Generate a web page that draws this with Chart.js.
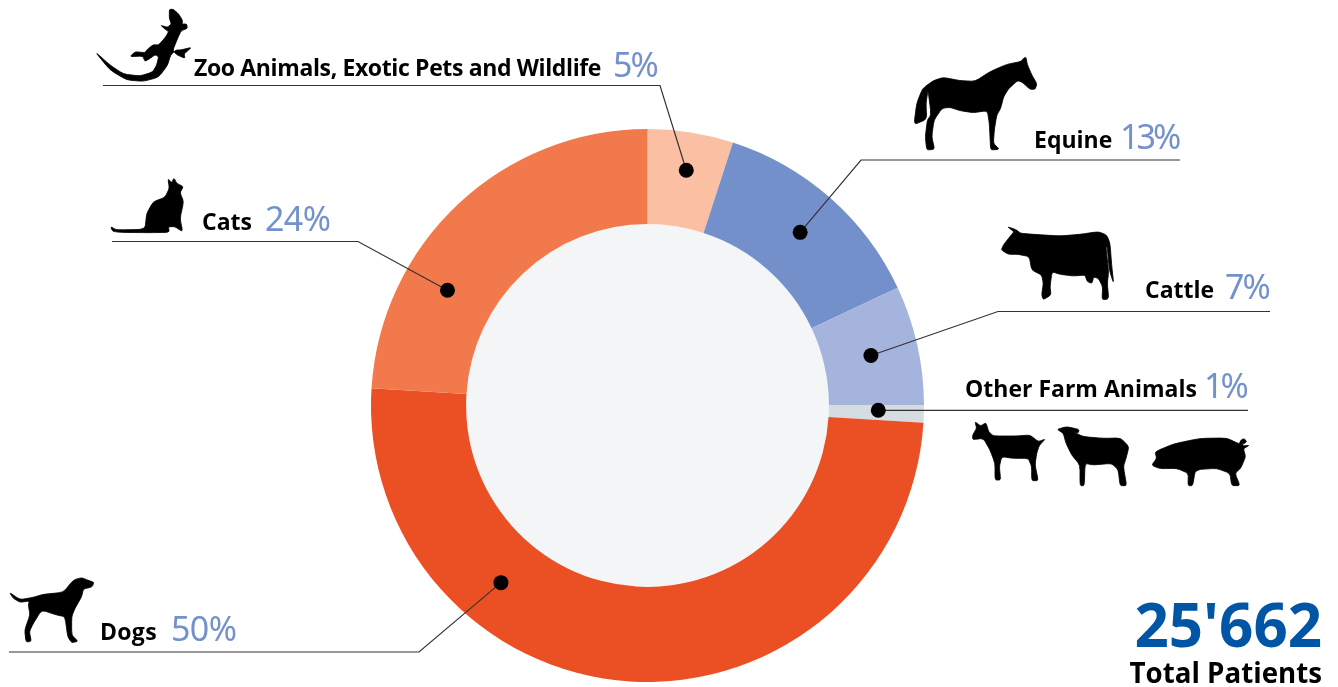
<!DOCTYPE html>
<html>
<head>
<meta charset="utf-8">
<title>Patients by species</title>
<script src="https://cdn.jsdelivr.net/npm/chart.js@4/dist/chart.umd.min.js"></script>
<style>
    html, body { margin: 0; padding: 0; background: #fff; overflow: hidden; }
    canvas { display: block; }
</style>
</head>
<body>
<canvas id="speciesChart" width="1338" height="687"></canvas>
<script>
const categories = ['Zoo Animals, Exotic Pets and Wildlife', 'Equine', 'Cattle', 'Other Farm Animals', 'Dogs', 'Cats'];
const shares = [5, 13, 7, 1, 50, 24];
const totalPatients = 25662;
const totalLabel = 'Total Patients';

const sliceColors = ['#fbbfa3', '#7390cb', '#a5b4dd', '#d6dde2', '#eb5024', '#f2794c'];

// Label placement for each slice, same order as categories.
// t/r: where the dot sits inside the slice (fraction of sweep / of ring width).
// bend: elbow of the leader, end: x where the horizontal rule stops.
const callouts = [
    { t: 0.52, r: 0.60, bend: [660, 85.5],  end: 103,  labelX: 194,  valueX: 613,  base: 76,  tight: -0.37, valueTight: -2 },
    { t: 0.50, r: 0.52, bend: [861, 160],   end: 1180, labelX: 1034, valueX: 1120, base: 148, tight: 0,     valueTight: -3 },
    { t: 0.50, r: 0.50, bend: [998, 311.5], end: 1270, labelX: 1145, valueX: 1225, base: 298, tight: 0,     valueTight: -2 },
    { t: 0.33, r: 0.52, bend: null,         end: 1248, labelX: 965,  valueX: 1204, base: 397, tight: 0,     valueTight: -3 },
    { t: 0.70, r: 0.51, bend: [419, 652],   end: 9,    labelX: 100,  valueX: 171,  base: 640, tight: 0.3,   valueTight: -0.6 },
    { t: 0.305, r: 0.52, bend: [358, 241.5], end: 112, labelX: 202,  valueX: 265,  base: 230, tight: 0,     valueTight: -0.6 }
];

// Animal outlines, traced at 3x and placed by their offset
const silhouettes = [
    { at: [90, 0], pts: [[15,155],[60,210],[110,240],[160,244],[205,232],[232,197],[242,165],[258,150],[272,150],[305,142],[282,162],[285,175],[262,165],[248,152],[264,112],[274,92],[292,85],[290,72],[276,72],[278,62],[266,42],[250,28],[238,28],[238,55],[244,72],[232,82],[212,76],[226,88],[236,95],[226,112],[206,135],[190,134],[172,148],[165,158],[135,155],[120,170],[158,168],[165,184],[176,178],[196,164],[206,170],[200,195],[188,216],[150,228],[100,222],[60,195]] },
    { at: [900, 40], pts: [[372,54],[378,52],[382,74],[396,106],[411,132],[405,148],[390,148],[366,126],[352,122],[326,146],[311,170],[302,205],[290,226],[283,270],[280,310],[298,328],[272,330],[270,290],[268,250],[262,212],[220,218],[180,212],[150,202],[126,205],[102,240],[95,290],[104,328],[80,330],[76,290],[82,240],[91,228],[92,212],[84,150],[78,190],[80,238],[42,254],[50,190],[68,145],[100,122],[130,112],[180,122],[225,124],[270,95],[320,73],[362,65]] },
    { at: [990, 215], pts: [[52,35],[78,44],[92,55],[130,58],[210,63],[270,58],[325,50],[350,60],[360,85],[365,150],[371,206],[358,165],[351,90],[348,100],[356,170],[352,205],[356,252],[336,254],[338,215],[325,190],[311,186],[306,205],[292,200],[285,180],[250,183],[210,178],[186,170],[180,215],[183,240],[160,254],[155,240],[160,205],[155,180],[125,165],[118,125],[85,118],[55,118],[34,105],[40,90],[62,62],[72,50]] },
    { at: [960, 370], pts: [[45,155],[62,168],[78,158],[86,185],[100,198],[170,198],[210,195],[235,215],[256,207],[238,226],[230,250],[225,285],[235,332],[215,332],[215,290],[205,265],[160,265],[125,260],[118,290],[122,330],[105,330],[105,280],[90,240],[70,205],[38,209],[38,195],[50,175]] },
    { at: [960, 370], pts: [[291,178],[320,170],[357,178],[355,189],[340,186],[370,200],[430,205],[482,204],[507,230],[498,265],[490,290],[500,347],[480,347],[475,300],[455,280],[400,285],[375,280],[373,347],[360,347],[360,285],[335,255],[318,220],[310,190]] },
    { at: [960, 370], pts: [[575,286],[590,265],[585,245],[640,222],[720,205],[800,204],[838,222],[843,210],[852,206],[860,214],[852,222],[846,218],[850,228],[868,226],[850,236],[857,260],[842,295],[825,310],[840,347],[815,347],[810,310],[770,295],[720,298],[705,305],[698,347],[684,347],[685,310],[650,295],[600,296]] },
    { at: [0, 565], pts: [[28,82],[60,104],[100,97],[130,88],[190,82],[220,45],[245,38],[262,45],[282,52],[276,66],[250,72],[245,95],[225,130],[215,155],[215,210],[234,229],[215,233],[203,215],[195,155],[170,150],[125,135],[100,175],[88,200],[94,229],[78,231],[74,195],[90,150],[85,120],[88,108],[60,112],[40,100]] },
    { at: [100, 170], pts: [[32,170],[50,180],[135,178],[140,130],[160,95],[195,82],[208,55],[204,26],[215,38],[222,24],[230,40],[250,50],[240,68],[251,95],[240,145],[248,185],[225,170],[205,170],[208,187],[145,188],[60,187],[38,184]] }
];

const labelFont = '"Open Sans", sans-serif';
const valueFont = '"Noto Sans", sans-serif';

function lerp(a, b, k) {
    return [a[0] + (b[0] - a[0]) * k, a[1] + (b[1] - a[1]) * k];
}

function drawSilhouette(ctx, item) {
    const pts = item.pts;
    ctx.save();
    ctx.translate(item.at[0], item.at[1]);
    ctx.scale(1 / 3, 1 / 3);
    ctx.beginPath();
    // only the corners get rounded so toes and hooves stay pointed
    pts.forEach((p, i) => {
        const prev = pts[(i + pts.length - 1) % pts.length];
        const next = pts[(i + 1) % pts.length];
        const a = lerp(p, prev, 0.25), b = lerp(p, next, 0.25);
        if (i === 0) ctx.moveTo(a[0], a[1]);
        else ctx.lineTo(a[0], a[1]);
        ctx.quadraticCurveTo(p[0], p[1], b[0], b[1]);
    });
    ctx.closePath();
    ctx.fillStyle = '#000';
    ctx.fill();
    // a thin outline gives back what the rounding takes off the legs
    ctx.strokeStyle = '#000';
    ctx.lineWidth = 2.5;
    ctx.lineJoin = 'round';
    ctx.stroke();
    ctx.restore();
}

function formatTotal(n) {
    return String(n).replace(/\B(?=(\d{3})+$)/g, "'");
}

const ringFace = {
    id: 'ringFace',
    beforeDatasetsDraw(chart) {
        const arc = chart.getDatasetMeta(0).data[0];
        const ctx = chart.ctx;
        ctx.save();
        ctx.beginPath();
        ctx.arc(arc.x, arc.y, arc.innerRadius, 0, Math.PI * 2);
        ctx.fillStyle = '#f3f5f7';
        ctx.fill();
        ctx.restore();
    }
};

const calloutLabels = {
    id: 'calloutLabels',
    afterDatasetsDraw(chart) {
        const ctx = chart.ctx;
        const arcs = chart.getDatasetMeta(0).data;
        ctx.save();
        ctx.textBaseline = 'alphabetic';

        callouts.forEach((c, i) => {
            const arc = arcs[i];
            const angle = arc.startAngle + c.t * (arc.endAngle - arc.startAngle);
            const radius = arc.innerRadius + c.r * (arc.outerRadius - arc.innerRadius);
            const dotX = arc.x + Math.cos(angle) * radius;
            const dotY = arc.y + Math.sin(angle) * radius;

            // leader with its horizontal rule
            const ruleY = c.bend ? c.bend[1] : dotY;
            ctx.beginPath();
            ctx.moveTo(dotX, dotY);
            if (c.bend) ctx.lineTo(c.bend[0], c.bend[1]);
            ctx.lineTo(c.end, ruleY);
            ctx.strokeStyle = '#333';
            ctx.lineWidth = 1.2;
            ctx.stroke();

            ctx.beginPath();
            ctx.arc(dotX, dotY, 7.5, 0, Math.PI * 2);
            ctx.fillStyle = '#000';
            ctx.fill();

            ctx.textAlign = 'left';
            ctx.fillStyle = '#000';
            ctx.font = '700 23px ' + labelFont;
            ctx.letterSpacing = c.tight + 'px';
            ctx.fillText(categories[i], c.labelX, c.base);
            ctx.letterSpacing = c.valueTight + 'px';
            ctx.fillStyle = '#7391cc';
            ctx.font = '400 34px ' + valueFont;
            ctx.fillText(shares[i] + '%', c.valueX, c.base + 1);
            ctx.letterSpacing = '0px';
        });

        silhouettes.forEach(s => drawSilhouette(ctx, s));

        ctx.textAlign = 'right';
        ctx.fillStyle = '#0055a5';
        ctx.font = '700 60px ' + labelFont;
        ctx.fillText(formatTotal(totalPatients), 1322, 647);
        ctx.fillStyle = '#000';
        ctx.font = '700 27.7px ' + labelFont;
        ctx.fillText(totalLabel, 1322, 683);
        ctx.restore();
    }
};

new Chart(document.getElementById('speciesChart'), {
    type: 'doughnut',
    data: {
        labels: categories,
        datasets: [{
            data: shares,
            backgroundColor: sliceColors,
            borderWidth: 0
        }]
    },
    options: {
        responsive: false,
        animation: false,
        cutout: '65.6%',
        layout: { padding: { left: 371, right: 414, top: 129, bottom: 5 } },
        plugins: { legend: { display: false }, tooltip: { enabled: false } }
    },
    plugins: [ringFace, calloutLabels]
});
</script>
</body>
</html>
